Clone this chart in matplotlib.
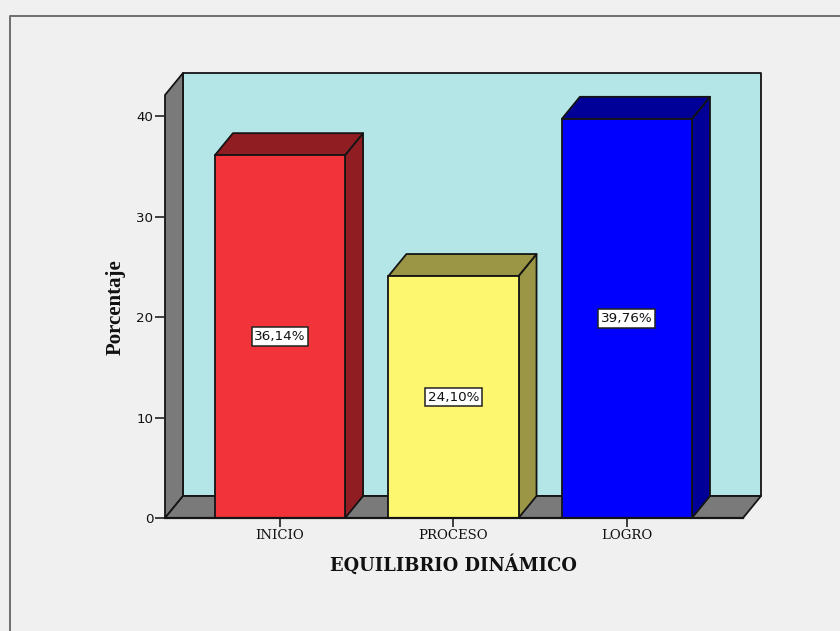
import matplotlib
matplotlib.use('Agg')
import matplotlib.pyplot as plt
from matplotlib.patches import Rectangle

# Percentages per level
categories = ['INICIO', 'PROCESO', 'LOGRO']
values = [36.14, 24.10, 39.76]
value_labels = ['36,14%', '24,10%', '39,76%']
y_ticks = [0, 10, 20, 30, 40]

front_colors = ['#f2333a', '#fdf76f', '#0000fe']
side_colors = ['#8f1d22', '#9a9645', '#000098']

W, H = 840, 631
BG = '#f0f0f0'
WALL = '#b5e6e7'
GRAY = '#7a7a7a'
EDGE = '#141414'

# 3D look: depth of the box in data units
bar_w = 0.75
dx = 18 / 173.5
dy = 2.19
x0, x1 = -0.663, 2.669
y_top = 42.13

fig = plt.figure(figsize=(W / 100, H / 100), dpi=100, facecolor=BG)

# outer frame of the chart
frame = fig.add_axes([0, 0, 1, 1], zorder=0)
frame.set_xlim(0, W)
frame.set_ylim(H, 0)
frame.axis('off')
frame.plot([9.5, 9.5, W], [H, 15.5, 15.5], color='#6e6e6e', lw=1.4)

ax = fig.add_axes([165 / W, 1 - 518 / H, (743 - 165) / W, (518 - 95) / H], zorder=1)
ax.set_xlim(x0, x1)
ax.set_ylim(0, y_top)
ax.patch.set_alpha(0)
for s in ax.spines.values():
    s.set_visible(False)


def poly(xs, ys, color, z=2, lw=1.3):
    ax.fill(xs, ys, facecolor=color, edgecolor=EDGE, lw=lw, zorder=z,
            clip_on=False, joinstyle='round')


# back wall, side wall and floor
poly([x0 + dx, x1 + dx, x1 + dx, x0 + dx], [dy, dy, y_top + dy, y_top + dy], WALL, 1)
poly([x0, x0 + dx, x0 + dx, x0], [0, dy, y_top + dy, y_top], GRAY, 1)
poly([x0, x1, x1 + dx, x0 + dx], [0, 0, dy, dy], GRAY, 1)

for i, v in enumerate(values):
    l, r = i - bar_w / 2, i + bar_w / 2
    poly([r, r + dx, r + dx, r], [0, dy, v + dy, v], side_colors[i], 3)
    poly([l, r, r + dx, l + dx], [v, v, v + dy, v + dy], side_colors[i], 3)
    ax.add_patch(Rectangle((l, 0), bar_w, v, facecolor=front_colors[i], edgecolor=EDGE,
                           lw=1.3, zorder=4, clip_on=False))
    ax.text(i, v / 2, value_labels[i], ha='center', va='center', fontsize=9.7,
            family='DejaVu Sans', color='#111111', zorder=5,
            bbox=dict(boxstyle='square,pad=0.2', facecolor='white', edgecolor='#222222', lw=1.1))

ax.plot([x0, x1], [0, 0], color=EDGE, lw=1.6, zorder=5, clip_on=False)

ax.set_xticks(range(len(categories)))
ax.set_xticklabels(categories, family='DejaVu Serif', fontsize=9.5, color='#111111')
ax.set_yticks(y_ticks)
ax.set_yticklabels([str(t) for t in y_ticks], family='DejaVu Sans', fontsize=9.6, color='#111111')
ax.tick_params(axis='x', length=6.5, width=1.2, color='#222222', pad=1.5)
ax.tick_params(axis='y', length=7, width=1.2, color='#222222', pad=1.5)

frame.text(453.5, 565, 'EQUILIBRIO DINÁMICO', ha='center', va='center', family='DejaVu Serif',
           fontweight='bold', fontsize=12.9, color='#111111')
frame.text(116, 307.5, 'Porcentaje', ha='center', va='center', rotation=90, family='Liberation Serif',
           fontweight='bold', fontsize=15, color='#111111')

fig.savefig('out.png', dpi=100, facecolor=BG)
